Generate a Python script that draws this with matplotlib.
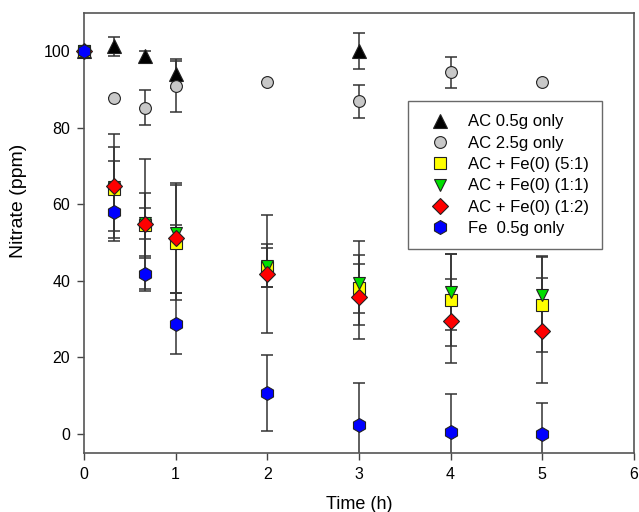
import numpy as np
import matplotlib
matplotlib.use("Agg")
import matplotlib.pyplot as plt

plt.rcParams["font.family"] = ["Liberation Sans", "DejaVu Sans"]

# time points (h)
t_short = [0, 0.33, 0.67, 1, 2, 3, 4, 5]

# nitrate values (ppm) and error bars
ac05 = [100, 101.3, 98.7, 94.0, np.nan, 100.0, np.nan, np.nan]
ac05_err = [0, 2.5, 1.5, 3.5, 0, 4.7, 0, 0]
ac25 = [100, 87.7, 85.3, 91.0, 91.9, 86.9, 94.5, 91.9]
ac25_err = [0, 0, 4.7, 7.0, 0, 4.3, 4.0, 0]
fe51 = [100, 64.0, 54.5, 50.0, 43.5, 38.0, 35.0, 33.8]
fe51_err = [0, 11.0, 8.5, 15.0, 5.0, 6.5, 12.0, 12.4]
fe11 = [100, 64.5, 55.0, 52.5, 44.0, 39.5, 37.1, 36.4]
fe11_err = [0, 6.7, 4.0, 2.0, 5.5, 11.0, 10.0, 10.0]
fe12 = [100, 64.9, 54.9, 51.2, 41.8, 35.8, 29.4, 27.0]
fe12_err = [0, 13.6, 17.0, 14.5, 15.5, 10.9, 11.0, 13.8]
fe05 = [100, 58.0, 41.9, 28.8, 10.7, 2.4, 0.4, 0.1]
fe05_err = [0, 7.5, 4.5, 8.0, 10.0, 11.0, 10.0, 8.0]

series = [
    ("AC 0.5g only", ac05, ac05_err, "^", "black", 9.5),
    ("AC 2.5g only", ac25, ac25_err, "o", "#c8c8c8", 8.5),
    ("AC + Fe(0) (5:1)", fe51, fe51_err, "s", "#ffff00", 8),
    ("AC + Fe(0) (1:1)", fe11, fe11_err, "v", "#00e000", 9),
    ("AC + Fe(0) (1:2)", fe12, fe12_err, "D", "#ff0000", 8),
    ("Fe  0.5g only", fe05, fe05_err, "h", "#0000ff", 10),
]

fig = plt.figure(figsize=(6.39, 5.12), dpi=100)
ax = fig.add_axes([0.1315, 0.1152, 0.8605, 0.8594])

handles = []
for label, y, err, mk, col, ms in series:
    y = np.array(y, dtype=float)
    err = np.array(err, dtype=float)
    ok = ~np.isnan(y)
    tt = np.array(t_short)[ok]
    ax.errorbar(tt, y[ok], yerr=err[ok], fmt="none", ecolor="#333333",
                elinewidth=1.1, capsize=4.5, capthick=1.1, zorder=2)
    h, = ax.plot(tt, y[ok], linestyle="none", marker=mk, markersize=ms,
                 markerfacecolor=col, markeredgecolor="#222222",
                 markeredgewidth=0.8, label=label, zorder=3, clip_on=False)
    handles.append(h)

ax.set_xlim(0, 6)
ax.set_ylim(-5, 110)
ax.set_xticks(range(0, 7))
ax.set_yticks(range(0, 101, 20))
ax.tick_params(direction="out", length=5, width=1, labelsize=11.5,
               colors="#444444", labelcolor="black", pad=5)
for s in ax.spines.values():
    s.set_color("#555555")
    s.set_linewidth(1.2)

ax.set_xlabel("Time (h)", fontsize=13, labelpad=10)
ax.set_ylabel("Nitrate (ppm)", fontsize=14)
ax.yaxis.set_label_coords(-0.1035, 0.573)

leg = ax.legend(handles=handles, loc="upper left",
                bbox_to_anchor=(408 / 639, 1 - 101 / 512),
                bbox_transform=fig.transFigure, fontsize=12,
                frameon=True, fancybox=False, borderpad=0.8,
                borderaxespad=0, handletextpad=0.6, labelspacing=0.38,
                handlelength=2.2)
leg.get_frame().set_edgecolor("#444444")
leg.get_frame().set_linewidth(1.0)

fig.savefig("out.png", dpi=100)
